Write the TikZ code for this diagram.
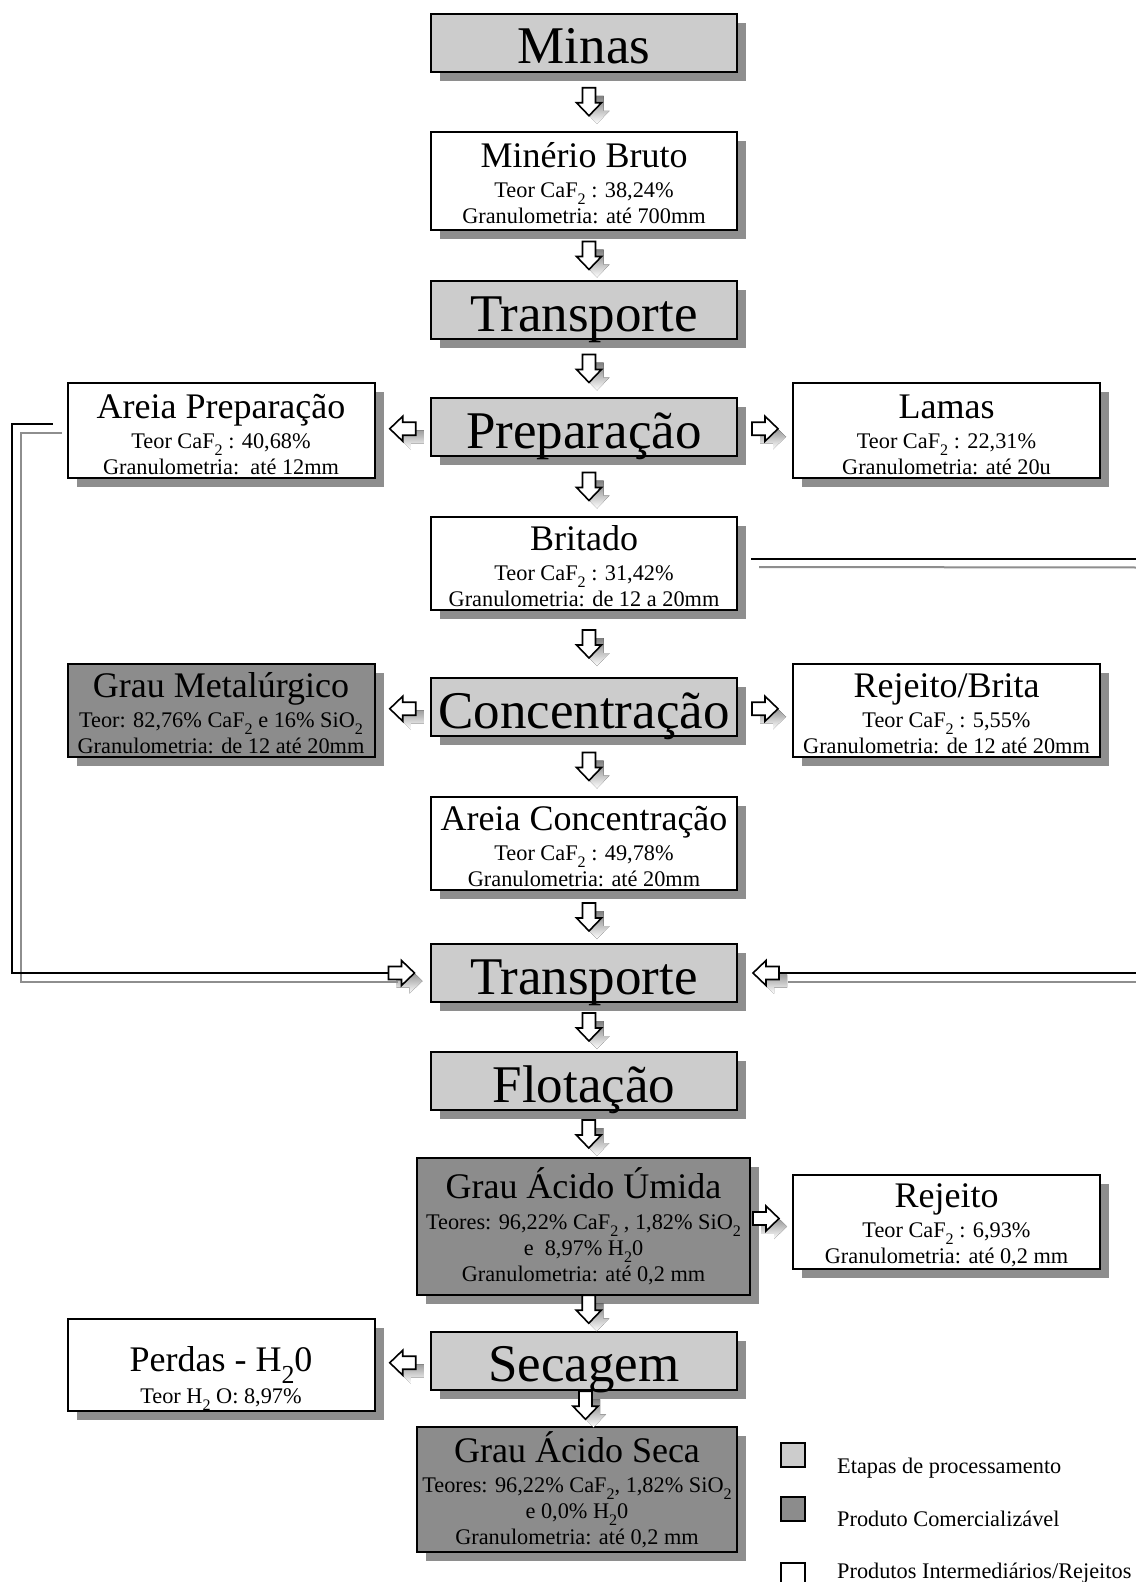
\documentclass[tikz,border=0pt]{standalone}
\usepackage{fontspec}
\usepackage{graphicx}
\setmainfont{Liberation Serif}
\usetikzlibrary{calc,shadows}

\definecolor{stagefill}{HTML}{CCCCCC}
\definecolor{prodfill}{HTML}{8C8C8C}
\definecolor{shade}{HTML}{8E8E8E}

\newcommand\bigsz{\fontsize{53}{60}\selectfont}
\newcommand\midsz{\fontsize{36}{40}\selectfont}
\newcommand\smsz{\fontsize{22.3}{26}\selectfont}
% lowered, reduced index digit as in chemical formulas
\newcommand\sbs[1]{\raisebox{-0.32em}{\scalebox{0.72}{#1}}}

\tikzset{
  box/.style={draw=black, line width=2pt, inner sep=0pt,
    drop shadow={shadow xshift=9pt, shadow yshift=-9pt, fill=shade, opacity=1}},
  stage/.style={box, fill=stagefill, minimum width=306pt, minimum height=58pt,
    font=\bigsz, text height=42pt, text depth=0pt},
  inter/.style={box, fill=white, minimum width=307pt, align=center, font=\smsz},
  prod/.style={box, fill=prodfill, align=center, font=\smsz},
  arrowline/.style={draw=black, fill=white, line width=1.6pt, line join=miter},
  loopline/.style={draw=black, line width=2pt},
  loopshade/.style={draw=shade, line width=2pt},
  legsq/.style={draw=black, line width=2pt, minimum width=24pt, minimum height=24pt, inner sep=0pt},
  legtext/.style={anchor=base west, font=\smsz, inner sep=0pt},
  darrow/.pic={
    \fill[shade, shift={(8,8)}] (-6.5,-14) -- (6.5,-14) -- (6.5,1) -- (12.5,1) -- (0,14) -- (-12.5,1) -- (-6.5,1) -- cycle;
    \path[arrowline] (-6.5,-14) -- (6.5,-14) -- (6.5,1) -- (12.5,1) -- (0,14) -- (-12.5,1) -- (-6.5,1) -- cycle;
  },
  rarrow/.pic={
    \fill[shade, shift={(8,8)}] (-13,-6.5) -- (0,-6.5) -- (0,-12.5) -- (13,0) -- (0,12.5) -- (0,6.5) -- (-13,6.5) -- cycle;
    \path[arrowline] (-13,-6.5) -- (0,-6.5) -- (0,-12.5) -- (13,0) -- (0,12.5) -- (0,6.5) -- (-13,6.5) -- cycle;
    \coordinate (-tail) at (-13,0);
  },
  larrow/.pic={
    \fill[shade, shift={(8,8)}] (13,-6.5) -- (0,-6.5) -- (0,-12.5) -- (-13,0) -- (0,12.5) -- (0,6.5) -- (13,6.5) -- cycle;
    \path[arrowline] (13,-6.5) -- (0,-6.5) -- (0,-12.5) -- (-13,0) -- (0,12.5) -- (0,6.5) -- (13,6.5) -- cycle;
    \coordinate (-tail) at (13,0);
  },
}

\begin{document}
\begin{tikzpicture}[x=1pt, y=-1pt]
\useasboundingbox[fill=white] (0,0) rectangle (1135,1582);

% main column
\node[stage] (minas) at (584,42.5) {Minas};
\node[inter, minimum width=306pt, minimum height=98pt] (bruto) at (584,181)
  {{\midsz\rule{0pt}{30pt}Minério Bruto}\\[4pt] Teor CaF\sbs{2} : 38,24\%\\ Granulometria: até 700mm};
\node[stage] (transp1) at (584,310) {Transporte};
\node[stage] (prep) at (584,427) {Preparação};
\node[inter, minimum width=306pt, minimum height=93pt] (britado) at (584,563.5)
  {{\midsz\rule{0pt}{30pt}Britado}\\[4pt] Teor CaF\sbs{2} : 31,42\%\\ Granulometria: de 12 a 20mm};
\node[stage] (conc) at (584,707) {Concentração};
\node[inter, minimum width=306pt, minimum height=93pt] (areiaconc) at (584,843.5)
  {{\midsz\rule{0pt}{30pt}Areia Concentração}\\[4pt] Teor CaF\sbs{2} : 49,78\%\\ Granulometria: até 20mm};
\node[stage] (transp2) at (584,973) {Transporte};
\node[stage] (flot) at (584,1081) {Flotação};
\node[prod, minimum width=333pt, minimum height=137pt] (gau) at (583.5,1226.5)
  {{\midsz Grau Ácido Úmida}\\[5pt] Teores: 96,22\% CaF\sbs{2} , 1,82\% SiO\sbs{2}\\ e\ \ 8,97\% H\sbs{2}0\\ Granulometria: até 0,2 mm};
\node[stage] (secagem) at (584,1360.5) {Secagem};
\node[prod, minimum width=320pt, minimum height=125pt] (gas) at (577,1489.5)
  {{\midsz Grau Ácido Seca}\\[4pt] Teores: 96,22\% CaF\sbs{2}, 1,82\% SiO\sbs{2}\\ e 0,0\% H\sbs{2}0\\ Granulometria: até 0,2 mm};

% side products
\node[inter, minimum height=95pt] (areiaprep) at (221,430.5)
  {{\midsz\rule{0pt}{33pt}Areia Preparação}\\[4pt] Teor CaF\sbs{2} : 40,68\%\\ Granulometria:\ \ até 12mm};
\node[inter, minimum height=95pt] (lamas) at (946.5,430.5)
  {{\midsz\rule{0pt}{33pt}Lamas}\\[4pt] Teor CaF\sbs{2} : 22,31\%\\ Granulometria: até 20u};
\node[prod, minimum width=307pt, minimum height=93pt] (graumet) at (221,710.5)
  {{\midsz\rule{0pt}{30pt}Grau Metalúrgico}\\[4pt] Teor: 82,76\% CaF\sbs{2} e 16\% SiO\sbs{2}\\ Granulometria: de 12 até 20mm};
\node[inter, minimum height=93pt] (rejbrita) at (946.5,710.5)
  {{\midsz\rule{0pt}{30pt}Rejeito/Brita}\\[4pt] Teor CaF\sbs{2} : 5,55\%\\ Granulometria: de 12 até 20mm};
\node[inter, minimum height=94pt] (rejeito) at (946.5,1222)
  {{\midsz\rule{0pt}{30pt}Rejeito}\\[4pt] Teor CaF\sbs{2} : 6,93\%\\ Granulometria: até 0,2 mm};
\node[inter, minimum height=92pt] (perdas) at (221,1365)
  {{\midsz\rule{0pt}{52pt}Perdas - H\sbs{2}0}\\[4pt] Teor H\sbs{2} O: 8,97\%};

% block arrows down the main column
\pic (d1) at ($(minas.south)!.5!(bruto.north)+(5,0)$) {darrow};
\pic (d2) at ($(bruto.south)!.5!(transp1.north)+(5,0)$) {darrow};
\pic (d3) at ($(transp1.south)!.5!(prep.north)+(5,0)$) {darrow};
\pic (d4) at ($(prep.south)!.5!(britado.north)+(5,0)$) {darrow};
\pic (d5) at ($(britado.south)!.5!(conc.north)+(5,0)$) {darrow};
\pic (d6) at ($(conc.south)!.5!(areiaconc.north)+(5,0)$) {darrow};
\pic (d7) at ($(areiaconc.south)!.5!(transp2.north)+(5,0)$) {darrow};
\pic (d8) at ($(transp2.south)!.5!(flot.north)+(5,0)$) {darrow};
\pic (d9) at ($(flot.south)!.5!(gau.north)+(5,0)$) {darrow};
\pic (d10) at ($(gau.south)!.5!(secagem.north)+(5,-4)$) {darrow};
\pic (d11) at ($(secagem.south)!.5!(gas.north)+(5,-3)$) {darrow};

% side arrows
\pic (l1) at ($(areiaprep.east)!.5!(prep.west)$) {larrow};
\pic (r1) at ($(prep.east)!.5!(lamas.west)$) {rarrow};
\pic (l2) at ($(graumet.east)!.5!(conc.west)$) {larrow};
\pic (r2) at ($(conc.east)!.5!(rejbrita.west)$) {rarrow};
\pic (r3) at ($(transp2.west)+(-28.5,0)$) {rarrow};
\pic (l3) at ($(transp2.east)+(28,0)$) {larrow};
\pic (r4) at ($(gau.east)+(15,-8)$) {rarrow};
\pic (l4) at ($(perdas.east)!.5!(secagem.west)$) {larrow};

% return lines into the second transport
\coordinate (rtop) at (1140,558.5);
\coordinate (rbot) at (1140,973);
\draw[loopshade] ([shift={(-5,2.5)}]areiaprep.west) -- ([shift={(-46,2.5)}]areiaprep.west)
  |- ([shift={(9,9)}]r3-tail);
\draw[loopline] ([shift={(-14,-7)}]areiaprep.west) -- ([shift={(-55,-7)}]areiaprep.west)
  |- (r3-tail);
\draw[loopshade] ([shift={(21,3.5)}]britado.east) -- ([shift={(0,9)}]rtop);
\draw[loopline] ([shift={(13,-5)}]britado.east) -- (rtop);
\draw[loopshade] ([shift={(0,9)}]rbot) -- ([shift={(9,9)}]l3-tail);
\draw[loopline] (rbot) -- (l3-tail);

% legend
\node[legsq, fill=stagefill] (lg1) at (793,1454.5) {};
\node[legsq, fill=prodfill] (lg2) at (793,1508.5) {};
\node[legsq, fill=white] (lg3) at (793,1574.5) {};
\node[legtext] (lt1) at (837,1473) {Etapas de processamento};
\node[legtext] (lt2) at (837,1526) {Produto Comercializável};
\node[legtext] (lt3) at (837,1578) {Produtos Intermediários/Rejeitos};
\end{tikzpicture}
\end{document}
